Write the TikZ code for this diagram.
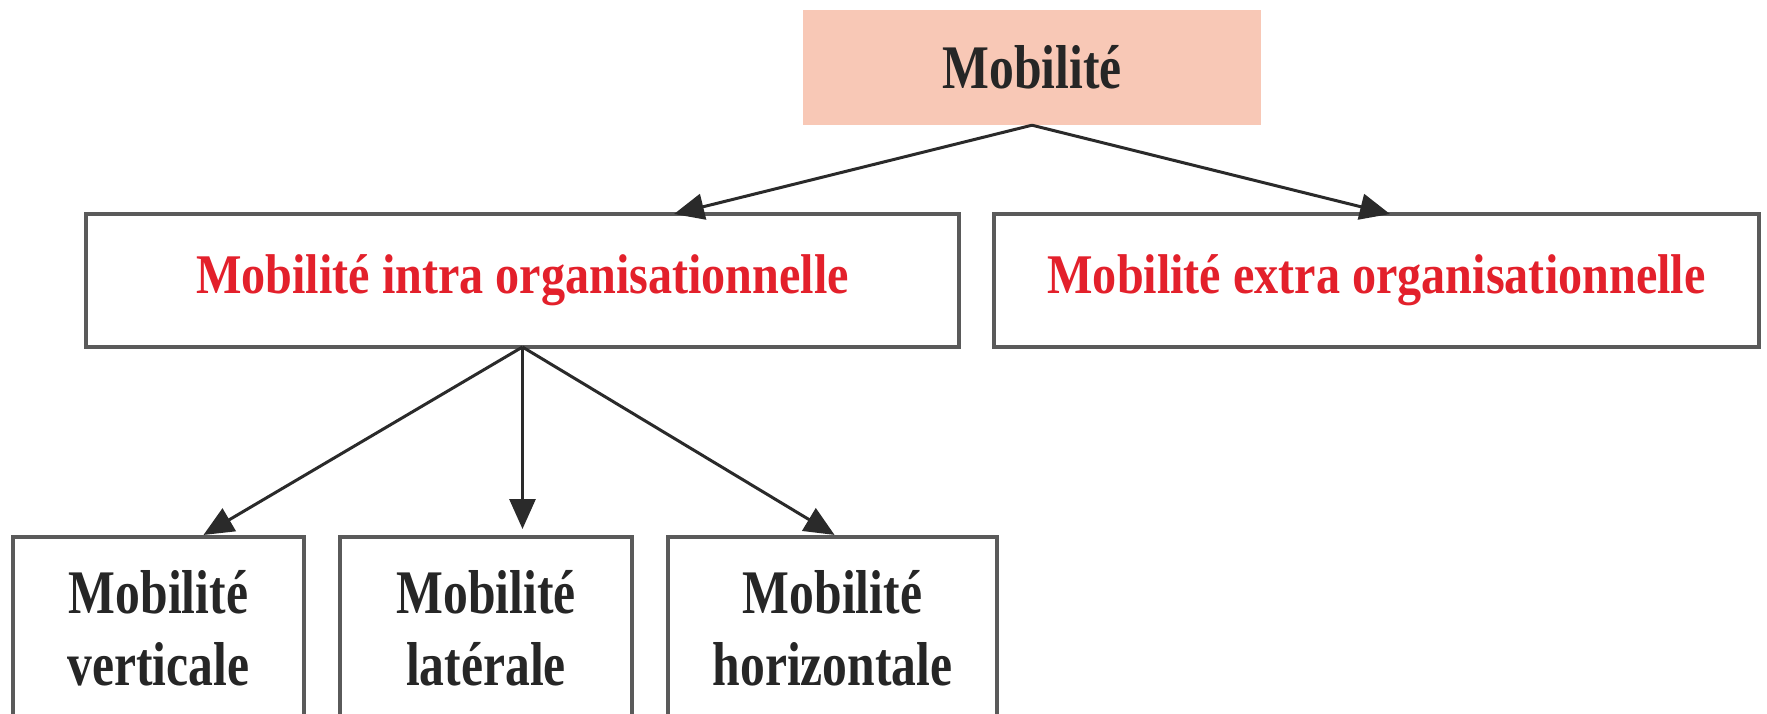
\documentclass[tikz,border=0pt]{standalone}
\usepackage{fontspec}
\setmainfont{Liberation Serif}
\newfontfamily\condfont{Liberation Serif}[FakeStretch=0.8]
\newfontfamily\redfont{Liberation Serif}[FakeStretch=0.86]
\usetikzlibrary{arrows.meta}
\definecolor{salmon}{HTML}{F8C8B6}
\definecolor{redtxt}{HTML}{E3202B}
\definecolor{boxline}{HTML}{5A5A5A}
\definecolor{arrowcol}{HTML}{2A2A2A}
\begin{document}
\begin{tikzpicture}[x=1pt,y=-1pt,
  box/.style={draw=boxline, line width=3.2pt, fill=white, inner sep=0pt, outer sep=0pt},
  redlbl/.style={text=redtxt, font=\redfont\bfseries\fontsize{56}{60}\selectfont},
  blklbl/.style={text=black!85, font=\condfont\bfseries\fontsize{62}{72}\selectfont, align=center},
  link/.style={draw=arrowcol, line width=3pt, -{Triangle[length=30pt,width=26pt]}}]
\useasboundingbox (0,0) rectangle (1767,714);
\clip (0,0) rectangle (1767,714);
\node[fill=salmon, inner sep=0pt, minimum width=458pt, minimum height=115pt, blklbl] (top) at (1032,67.5) {Mobilité};
\node[box, redlbl, minimum width=873pt, minimum height=133pt] (intra) at (522.5,280.5) {Mobilité intra organisationnelle};
\node[box, redlbl, minimum width=765pt, minimum height=133pt] (extra) at (1376.5,280.5) {Mobilité extra organisationnelle};
\node[box, blklbl, minimum width=291pt, minimum height=183pt] (b1) at (158.5,628.5) {Mobilité\\verticale};
\node[box, blklbl, minimum width=292pt, minimum height=183pt] (b2) at (486,628.5) {Mobilité\\latérale};
\node[box, blklbl, minimum width=329pt, minimum height=183pt] (b3) at (832.5,628.5) {Mobilité\\horizontale};
\draw[link] (top.south) -- (674,0 |- intra.north);
\draw[link] (top.south) -- (1390,0 |- extra.north);
\draw[link, shorten >=4pt] (intra.south) -- (200,0 |- b1.north);
\draw[link, shorten >=8pt] (intra.south) -- (intra.south |- b2.north);
\draw[link, shorten >=4pt] (intra.south) -- (838,0 |- b3.north);
\end{tikzpicture}
\end{document}
